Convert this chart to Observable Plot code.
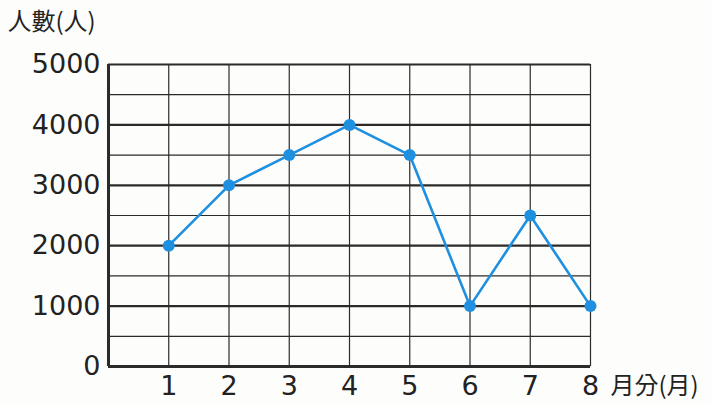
<!DOCTYPE html>
<html>
<head>
<meta charset="utf-8">
<script src="https://cdn.jsdelivr.net/npm/d3@7"></script>
<script src="https://cdn.jsdelivr.net/npm/@observablehq/plot@0.6"></script>
<style>
  html, body { margin: 0; padding: 0; background: #fdfdfb; }
  #chart svg { display: block; background: #fdfdfb; }
</style>
</head>
<body>
<div id="chart"></div>
<script>
const months = [1, 2, 3, 4, 5, 6, 7, 8];
const visitors = [2000, 3000, 3500, 4000, 3500, 1000, 2500, 1000];
const yTicks = [0, 1000, 2000, 3000, 4000, 5000];
const yMinorGrid = [500, 1500, 2500, 3500, 4500];
const xGrid = [1, 2, 3, 4, 5, 6, 7, 8];
const yTitle = "人數(人)";
const xTitle = "月分(月)";

const data = months.map((m, i) => ({month: m, value: visitors[i]}));
const blue = "#1f8fe0";
const ink = "#2b2b2b";
const cjk = "'Noto Sans CJK TC', 'Noto Sans CJK SC', sans-serif";
const num = "'DejaVu Sans', sans-serif";

const chart = Plot.plot({
  width: 712,
  height: 405,
  marginLeft: 108,
  marginRight: 122,
  marginTop: 64,
  marginBottom: 39,
  x: {domain: [0, 8], axis: null},
  y: {domain: [0, 5000], axis: null},
  style: {background: "#fdfdfb"},
  marks: [
    Plot.ruleY(yMinorGrid, {stroke: ink, strokeWidth: 1.2}),
    Plot.ruleX(xGrid, {stroke: ink, strokeWidth: 1.2}),
    Plot.ruleY(yTicks.filter(d => d > 0), {stroke: ink, strokeWidth: 2.2}),
    Plot.ruleY([0], {stroke: ink, strokeWidth: 3}),
    Plot.ruleX([0], {stroke: ink, strokeWidth: 3}),
    Plot.line(data, {x: "month", y: "value", stroke: blue, strokeWidth: 2.6}),
    Plot.dot(data, {x: "month", y: "value", r: 6, fill: blue, stroke: "none"}),
    Plot.text(yTicks, {x: 0, y: d => d, text: d => String(d), dx: -8, textAnchor: "end", fontSize: 27, fontFamily: num, fill: "#222"}),
    Plot.text(months, {x: d => d, y: 0, text: d => String(d), dy: 20, fontSize: 27, fontFamily: num, fill: "#222"}),
    Plot.text([xTitle], {x: 8, y: 0, dx: 20, dy: 20, textAnchor: "start", fontSize: 24, fontFamily: cjk, fill: "#222"}),
    Plot.text([yTitle], {x: 0, y: 5000, dx: -101, dy: -42, textAnchor: "start", fontSize: 24, fontFamily: cjk, fill: "#222"})
  ]
});
document.getElementById("chart").appendChild(chart);
</script>
</body>
</html>
